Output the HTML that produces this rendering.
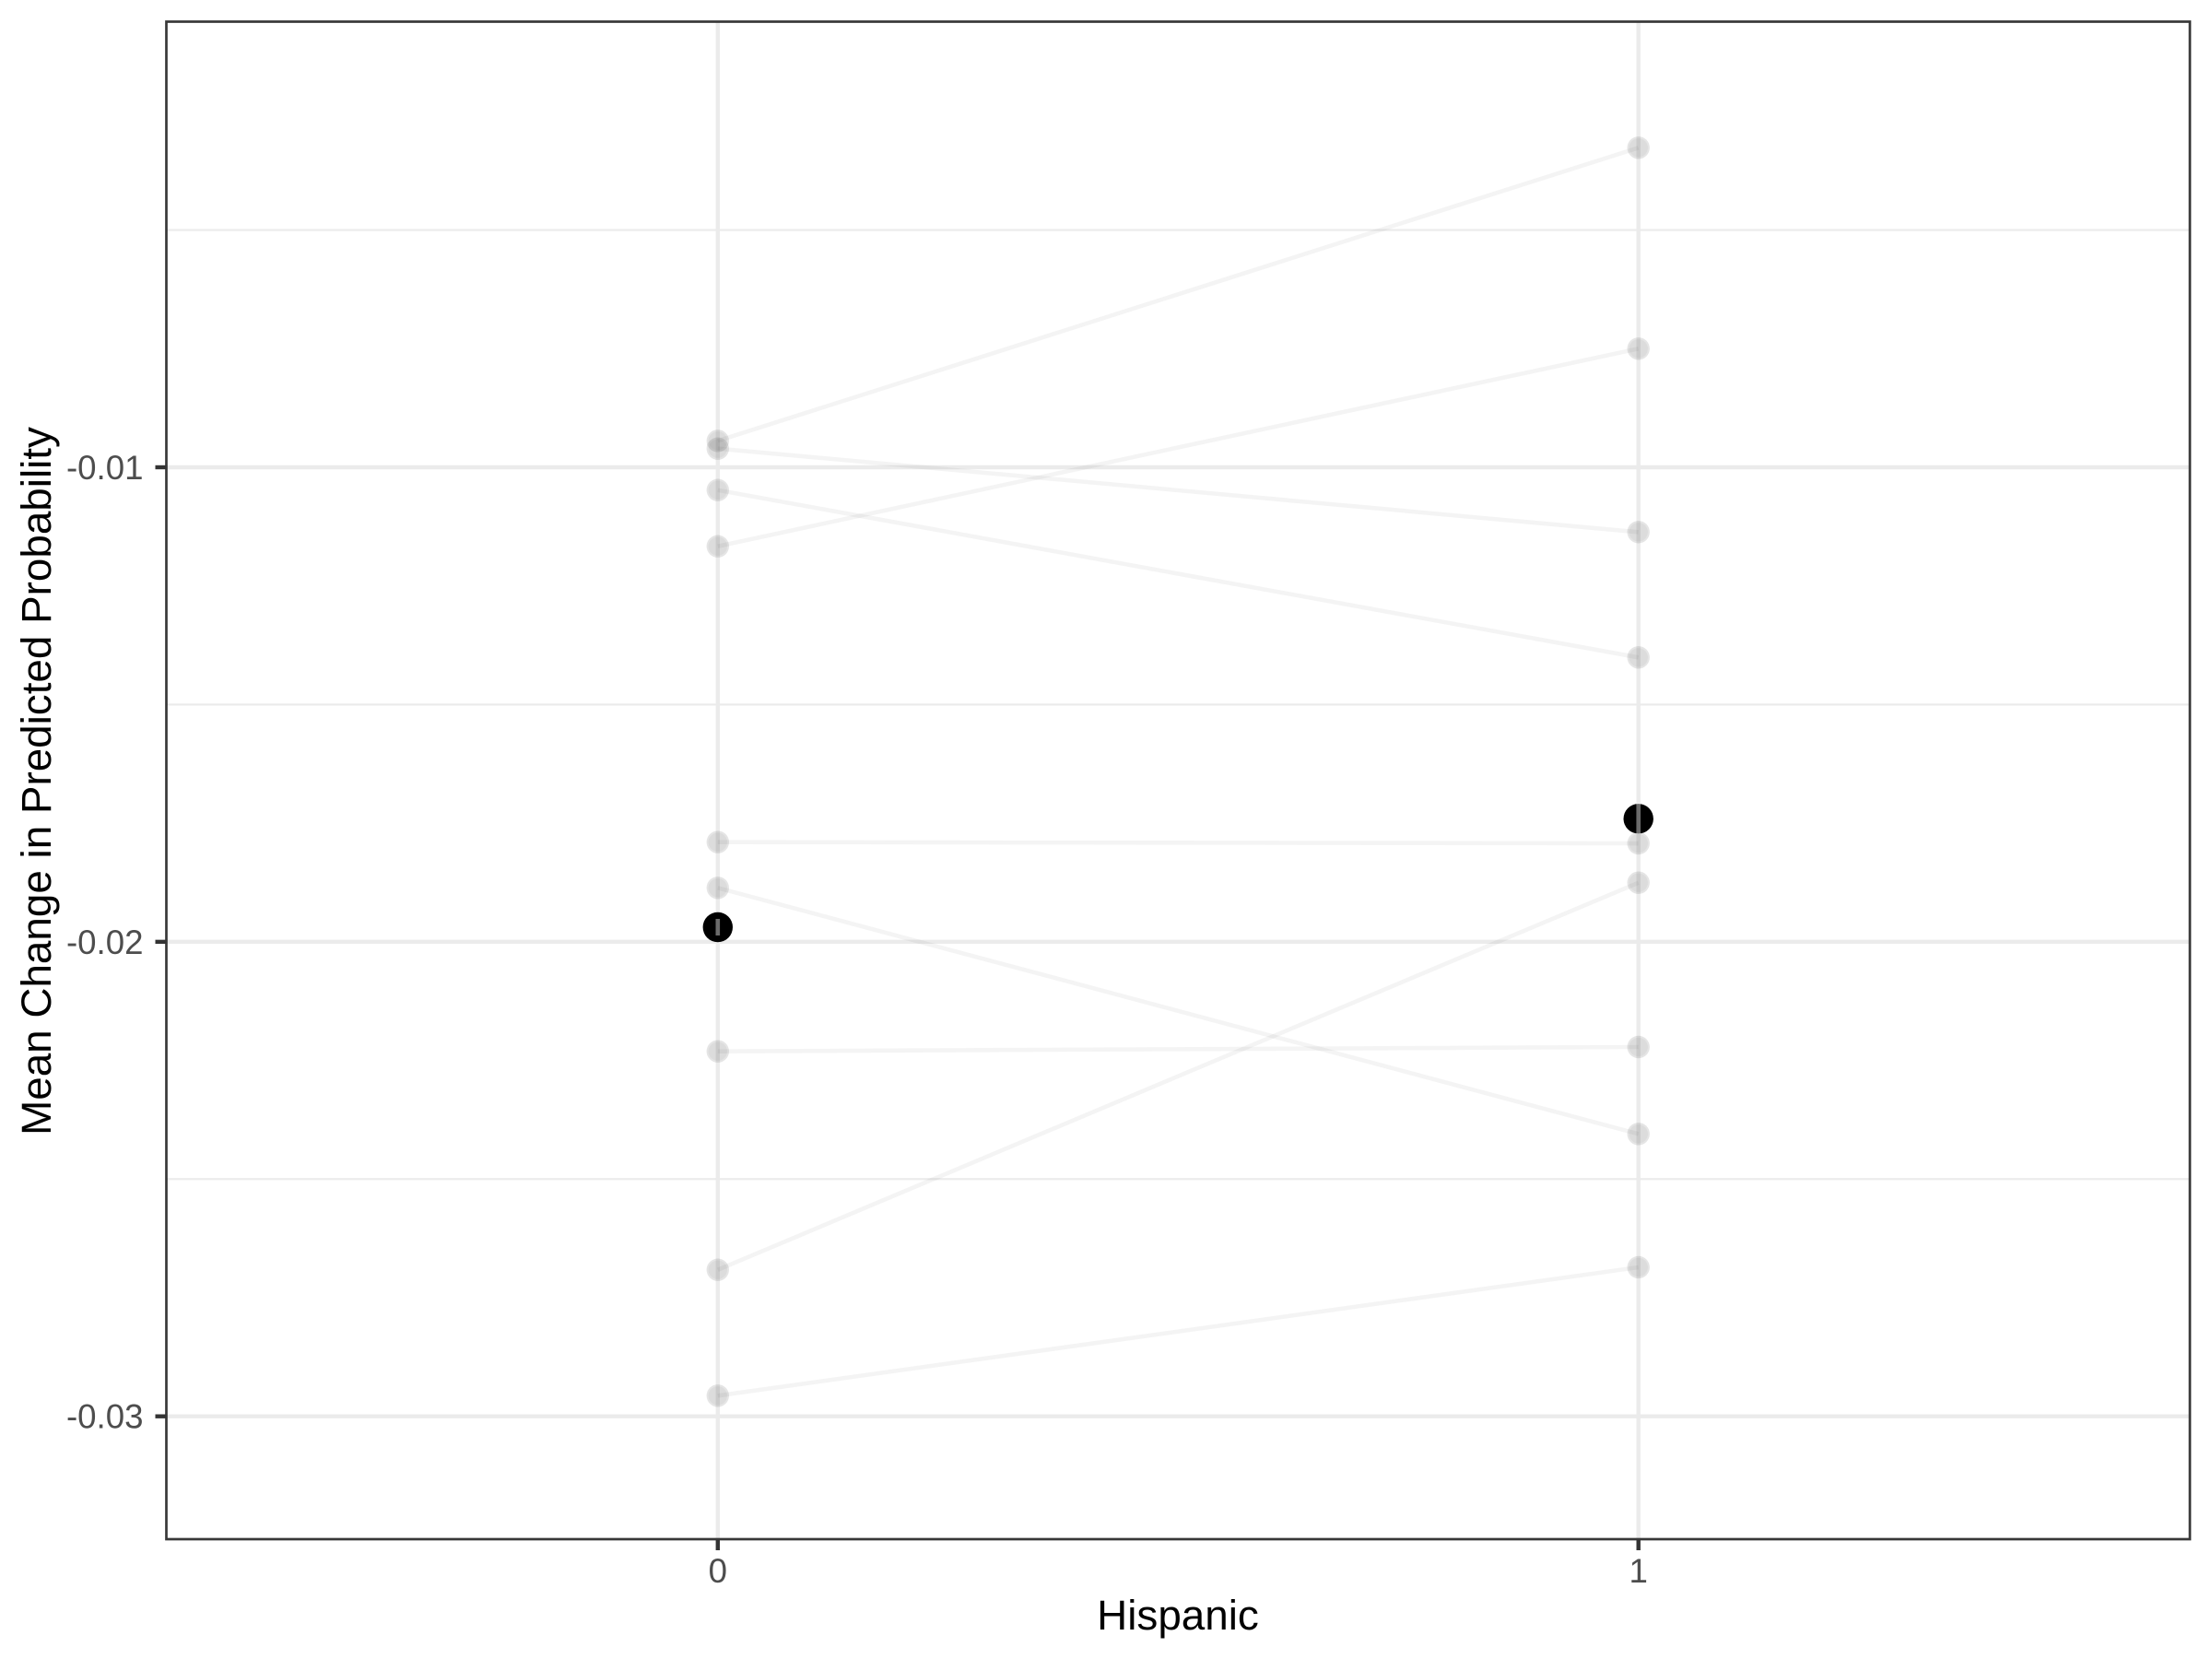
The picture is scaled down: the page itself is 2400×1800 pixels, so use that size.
<!DOCTYPE html>
<html lang="en">
<head>
<meta charset="utf-8">
<title>Mean Change in Predicted Probability by Hispanic</title>
<style>
html,body{margin:0;padding:0;background:#fff;}
#chart{display:block;width:2400px;height:1800px;font-family:"Liberation Sans",Arial,sans-serif;}
</style>
</head>
<body>
<svg id="chart" xmlns="http://www.w3.org/2000/svg" width="2400" height="1800" viewBox="0 0 2400 1800">
  <rect x="0" y="0" width="2400" height="1800" fill="#ffffff"/>
  <g id="grid"></g>
  <g id="lines"></g>
  <g id="points"></g>
  <g id="means"></g>
  <rect x="180.5" y="23.5" width="2195.5" height="1646.5" fill="none" stroke="#383838" stroke-width="2.7"/>
  <g id="axes"></g>
  <text x="1278" y="1768" font-size="45.8" fill="#000000" text-anchor="middle">Hispanic</text>
  <text transform="translate(55,847.5) rotate(-90)" font-size="45.8" fill="#000000" text-anchor="middle">Mean Change in Predicted Probability</text>
</svg>
<script>
const categories = ["0", "1"];
const startValues = [-0.009443, -0.009606, -0.010480, -0.011665, -0.017899, -0.018863, -0.022308, -0.026912, -0.029565];
const endValues = [-0.003266, -0.011365, -0.014007, -0.007500, -0.017925, -0.024049, -0.022217, -0.018754, -0.026859];
const meanValues = [-0.019692, -0.017406];
const meanLow = [-0.019867, -0.017730];
const meanHigh = [-0.019517, -0.017070];
const yMajorTicks = [-0.01, -0.02, -0.03];
const yMinorTicks = [-0.005, -0.015, -0.025];
const yTickLabels = ["-0.01", "-0.02", "-0.03"];

const NS = "http://www.w3.org/2000/svg";
function xScale(i) { return 778.8 + i * 998.9; }
function yScale(v) { return 507 + (-0.01 - v) * 51485; }
function make(parent, tag, attrs) {
  const el = document.createElementNS(NS, tag);
  for (const k in attrs) el.setAttribute(k, attrs[k]);
  parent.appendChild(el);
  return el;
}
const PL = 180.5, PR = 2376, PT = 23.5, PB = 1670;
const grid = document.getElementById("grid");
const axes = document.getElementById("axes");
const linesG = document.getElementById("lines");
const pointsG = document.getElementById("points");
const meansG = document.getElementById("means");

yMinorTicks.forEach(function (v) {
  const el = make(grid, "line", { x1: PL, x2: PR, y1: yScale(v), y2: yScale(v), stroke: "#ebebeb", "stroke-width": 2.2 });
  
  
});
yMajorTicks.forEach(function (v) {
  const el = make(grid, "line", { x1: PL, x2: PR, y1: yScale(v), y2: yScale(v), stroke: "#ebebeb", "stroke-width": 4.4 });
  
  
});
categories.forEach(function (c, i) {
  const el = make(grid, "line", { x1: xScale(i), x2: xScale(i), y1: PT, y2: PB, stroke: "#ebebeb", "stroke-width": 4.4 });
  
  
});

startValues.forEach(function (s, i) {
  const e = endValues[i];
  const ln = make(linesG, "line", { x1: xScale(0), y1: yScale(s), x2: xScale(1), y2: yScale(e), stroke: "#000000", "stroke-opacity": 0.045, "stroke-width": 4.6 });
  
  
});

function drawPoint(cx, cy) {
  const outer = make(pointsG, "circle", { cx: cx, cy: cy, r: 12.2, fill: "#000000", "fill-opacity": 0.1 });
  
  
  const inner = make(pointsG, "circle", { cx: cx, cy: cy, r: 10.2, fill: "#000000", "fill-opacity": 0.04 });
  
  
}
startValues.forEach(function (s) { drawPoint(xScale(0), yScale(s)); });
endValues.forEach(function (e) { drawPoint(xScale(1), yScale(e)); });

meanValues.forEach(function (m, i) {
  const c = make(meansG, "circle", { cx: xScale(i), cy: yScale(m), r: 16.2, fill: "#000000" });
  
  
  const b = make(meansG, "line", { x1: xScale(i), x2: xScale(i), y1: yScale(meanHigh[i]), y2: yScale(meanLow[i]), stroke: "#ffffff", "stroke-opacity": 0.42, "stroke-width": 4.6 });
  
  
});

yMajorTicks.forEach(function (v, i) {
  const t = make(axes, "line", { x1: 168.5, x2: 180, y1: yScale(v), y2: yScale(v), stroke: "#333333", "stroke-width": 4.4 });
  
  
  const l = make(axes, "text", { x: 155.5, y: yScale(v) + 13, "font-size": 36.67, fill: "#4d4d4d", "text-anchor": "end" });
  
  
  l.textContent = yTickLabels[i];
});
categories.forEach(function (c, i) {
  const t = make(axes, "line", { x1: xScale(i), x2: xScale(i), y1: 1671, y2: 1682, stroke: "#333333", "stroke-width": 4.4 });
  
  
  const l = make(axes, "text", { x: xScale(i), y: 1717, "font-size": 36.67, fill: "#4d4d4d", "text-anchor": "middle" });
  
  
  l.textContent = c;
});
</script>
</body>
</html>
